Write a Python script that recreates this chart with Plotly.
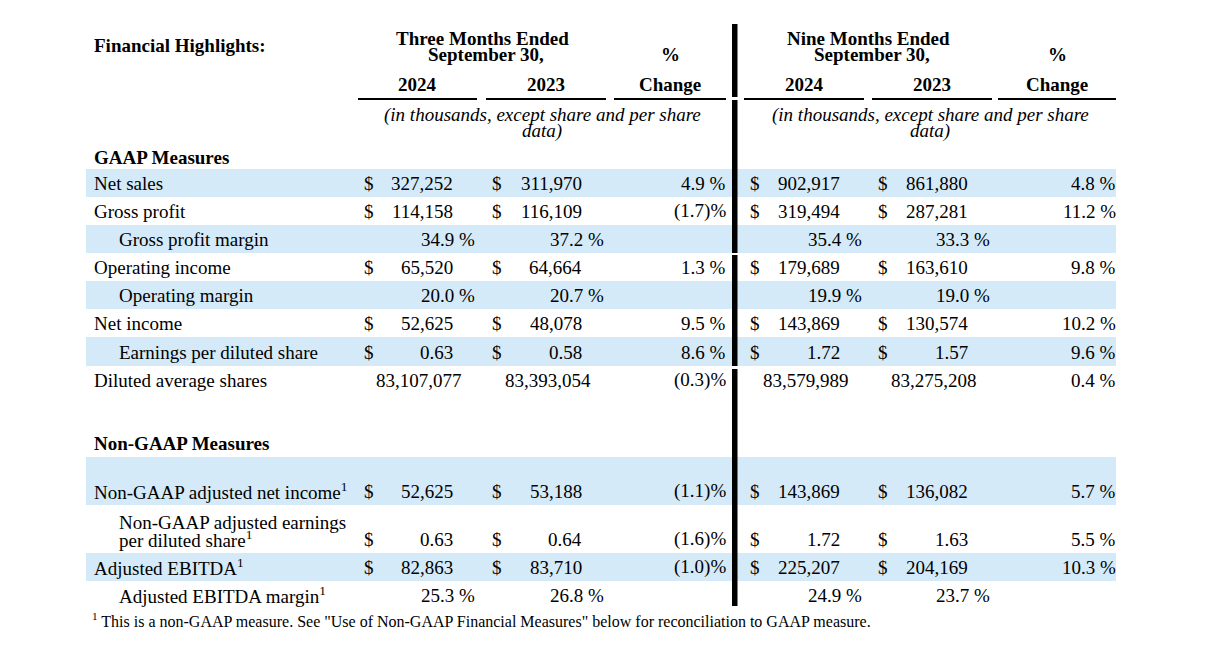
import plotly.graph_objects as go

# ---------------- data ----------------
row_labels = ["Net sales", "Gross profit", "Gross profit margin", "Operating income",
              "Operating margin", "Net income", "Earnings per diluted share",
              "Diluted average shares", "Non-GAAP adjusted net income",
              "Non-GAAP adjusted earnings|per diluted share", "Adjusted EBITDA",
              "Adjusted EBITDA margin"]
row_units = ["usd", "usd", "pct", "usd", "pct", "usd", "eps", "shares", "usd", "eps", "usd", "pct"]
row_indent = [0, 0, 1, 0, 1, 0, 1, 0, 0, 1, 0, 1]
row_footnote = [0, 0, 0, 0, 0, 0, 0, 0, 1, 1, 1, 1]
row_shaded = [1, 0, 1, 0, 1, 0, 1, 0, 1, 0, 1, 0]

q3_2024 = [327252, 114158, 34.9, 65520, 20.0, 52625, 0.63, 83107077, 52625, 0.63, 82863, 25.3]
q3_2023 = [311970, 116109, 37.2, 64664, 20.7, 48078, 0.58, 83393054, 53188, 0.64, 83710, 26.8]
q3_change = [4.9, -1.7, None, 1.3, None, 9.5, 8.6, -0.3, -1.1, -1.6, -1.0, None]
ytd_2024 = [902917, 319494, 35.4, 179689, 19.9, 143869, 1.72, 83579989, 143869, 1.72, 225207, 24.9]
ytd_2023 = [861880, 287281, 33.3, 163610, 19.0, 130574, 1.57, 83275208, 136082, 1.63, 204169, 23.7]
ytd_change = [4.8, 11.2, None, 9.8, None, 10.2, 9.6, 0.4, 5.7, 5.5, 10.3, None]

title_text = "Financial Highlights:"
period_titles = [("Three Months Ended", "September 30,"), ("Nine Months Ended", "September 30,")]
year_labels = ["2024", "2023"]
unit_note = ("(in thousands, except share and per share", "data)")
section_titles = ["GAAP Measures", "Non-GAAP Measures"]
footnote_text = ("<sup>1</sup> This is a non-GAAP measure. See \"Use of Non-GAAP Financial Measures\" "
                 "below for reconciliation to GAAP measure.")

# ---------------- layout geometry ----------------
PAGE_W, PAGE_H = 1208, 666
OFF = 8                      # browser body margin
W, H = PAGE_W - 2 * OFF, PAGE_H - 2 * OFF
FONT = "Liberation Serif"
FS = 19
BAND = "#d5eaf8"

blocks = [
    {"cells": [(358, 477), (486, 606), (614, 726)], "vals": (q3_2024, q3_2023), "chg": q3_change},
    {"cells": [(744, 864), (872, 992), (998, 1116)], "vals": (ytd_2024, ytd_2023), "chg": ytd_change},
]

row_heights = [28, 28, 28, 28, 28, 28, 29, 28, 48, 48, 28, 28]
row_tops = []
y = 169
for i, h in enumerate(row_heights):
    if i == 8:
        y = 457
    row_tops.append(y)
    y += h

ann = []
shapes = []


def txt(x, y, s, anchor="left", size=FS, bold=False, italic=False):
    if bold:
        s = "<b>" + s + "</b>"
    if italic:
        s = "<i>" + s + "</i>"
    ann.append(dict(x=x, y=y, xref="x", yref="y", text=s, showarrow=False,
                    xanchor=anchor, yanchor="middle",
                    font=dict(family=FONT, size=size, color="black")))


def fmt_val(v, unit):
    if unit == "usd":
        return f"{v:,.0f}"
    if unit == "eps":
        return f"{v:.2f}"
    if unit == "shares":
        return f"{v:,.0f}"
    return f"{v:.1f} %"


def fmt_chg(v):
    if v is None:
        return ""
    if v < 0:
        return f"({abs(v):.1f})%"
    return f"{v:.1f} %"


# bands
for i, sh in enumerate(row_shaded):
    if sh:
        shapes.append(dict(type="rect", xref="x", yref="y", x0=86, x1=1116,
                           y0=row_tops[i], y1=row_tops[i] + row_heights[i],
                           fillcolor=BAND, line=dict(width=0), layer="below"))

# header
txt(92, 45, title_text, bold=True)
for b, (l1, l2) in zip(blocks, period_titles):
    c = b["cells"]
    cx = (c[0][0] + c[1][1]) / 2
    txt(cx, 38, l1, anchor="center", bold=True)
    txt(cx + 4, 54, l2, anchor="center", bold=True)
    chx = (c[2][0] + c[2][1]) / 2
    txt(chx, 54, "%", anchor="center", bold=True)
    txt(chx, 84, "Change", anchor="center", bold=True)
    for k in range(2):
        txt((c[k][0] + c[k][1]) / 2, 84, year_labels[k], anchor="center", bold=True)
    for (x0, x1) in c:
        shapes.append(dict(type="line", xref="x", yref="y", x0=x0, x1=x1, y0=99, y1=99,
                           line=dict(color="black", width=2)))
    nx = (c[0][0] + c[2][1]) / 2
    txt(nx, 115, unit_note[0], anchor="center", italic=True)
    txt(nx, 131, unit_note[1], anchor="center", italic=True)

txt(92, 157, section_titles[0], bold=True)
txt(92, 443, section_titles[1], bold=True)

# body rows
for i, lab in enumerate(row_labels):
    ybot = row_tops[i] + row_heights[i]
    yt = ybot - 14
    lx = 117 if row_indent[i] else 92
    parts = lab.split("|")
    sup = "<sup>1</sup>" if row_footnote[i] else ""
    if len(parts) == 2:
        txt(lx, yt - 17, parts[0])
        txt(lx, yt, parts[1] + sup)
    else:
        txt(lx, yt, parts[0] + sup)
    unit = row_units[i]
    for b in blocks:
        c = b["cells"]
        for k in range(2):
            v = b["vals"][k][i]
            x0, x1 = c[k]
            s = fmt_val(v, unit)
            if unit in ("usd", "eps"):
                txt(x0 + 4, yt, "$")
                txt(x1 - 22, yt, s, anchor="right")
            elif unit == "pct":
                txt(x1, yt, s, anchor="right")
            else:
                txt(x1 - 13, yt, s, anchor="right")
        cs = fmt_chg(b["chg"][i])
        if cs:
            txt(c[2][1] + 2, yt, cs, anchor="right")

# footnote
txt(90, 620, footnote_text, size=16)

# thick vertical separator
for (a, bb) in [(24, 97), (100, 253), (255, 366), (369, 606)]:
    shapes.append(dict(type="rect", xref="x", yref="y", x0=732, x1=737.5, y0=a, y1=bb,
                       fillcolor="black", line=dict(width=0)))

fig = go.Figure()
fig.add_trace(go.Scatter(x=[OFF, OFF + W], y=[OFF, OFF + H], mode="markers",
                         marker=dict(opacity=0), hoverinfo="skip", showlegend=False))
fig.update_layout(
    width=W, height=H, margin=dict(l=0, r=0, t=0, b=0),
    paper_bgcolor="white", plot_bgcolor="white",
    xaxis=dict(range=[OFF, OFF + W], visible=False, fixedrange=True),
    yaxis=dict(range=[OFF + H, OFF], visible=False, fixedrange=True),
    annotations=ann, shapes=shapes, showlegend=False,
)
fig.write_html("out.html", config={"displayModeBar": False})
